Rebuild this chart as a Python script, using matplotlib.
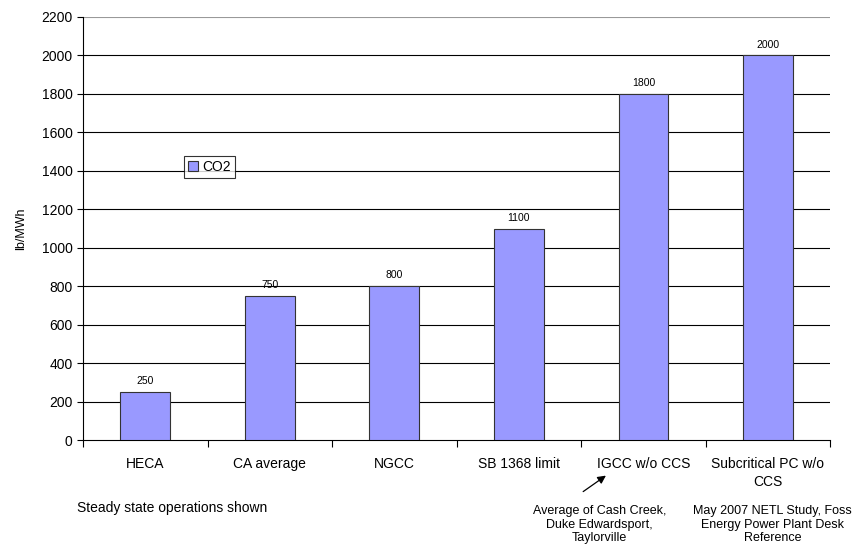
import matplotlib
matplotlib.use('Agg')
import matplotlib.pyplot as plt
import numpy as np

plt.rcParams['font.family'] = ['Liberation Sans', 'DejaVu Sans']

categories = ['HECA', 'CA average', 'NGCC', 'SB 1368 limit', 'IGCC w/o CCS', 'Subcritical PC w/o\nCCS']
co2 = [250, 750, 800, 1100, 1800, 2000]
yticks = np.arange(0, 2201, 200)

fig = plt.figure(figsize=(8.53, 5.48), dpi=100)
ax = fig.add_axes([0.0973, 0.197, 0.876, 0.772])

x = np.arange(len(categories))
bars = ax.bar(x, co2, width=0.4, color='#9999FF', edgecolor='#333333', linewidth=0.8,
              zorder=3, label='CO2')

for xi, v in zip(x, co2):
    ax.text(xi, v + 30, str(v), ha='center', va='bottom', fontsize=7.5)

ax.set_xlim(-0.5, len(categories) - 0.5)
ax.set_ylim(0, 2200)
ax.set_yticks(yticks)
ax.tick_params(axis='y', labelsize=10, length=4, direction='out')
ax.set_xticks(np.arange(len(categories) + 1) - 0.5, minor=False)
ax.set_xticklabels([])
ax.tick_params(axis='x', length=5, direction='out')
for xi, c in zip(x, categories):
    ax.text(xi, -90, c, ha='center', va='top', fontsize=10, linespacing=1.3)

for yv in yticks[1:-1]:
    ax.axhline(yv, color='black', linewidth=0.8, zorder=1)
ax.axhline(2200, color='#999999', linewidth=0.8, zorder=1)

for s in ['top', 'right']:
    ax.spines[s].set_visible(False)
ax.spines['left'].set_linewidth(0.8)
ax.spines['bottom'].set_linewidth(0.8)

ax.set_ylabel('lb/MWh', fontsize=9, labelpad=10)

leg = ax.legend(loc='center left', bbox_to_anchor=(0.135, 0.645), fontsize=10,
                frameon=True, fancybox=False, handlelength=0.7, handleheight=0.7,
                handletextpad=0.3, borderpad=0.3, borderaxespad=0)
leg.get_frame().set_edgecolor('black')
leg.get_frame().set_linewidth(0.8)

fig.text(0.090, 0.073, 'Steady state operations shown', fontsize=10, ha='left', va='center')

narrow = ['Liberation Sans Narrow', 'Liberation Sans', 'DejaVu Sans']
fig.text(0.703, 0.078, 'Average of Cash Creek,\nDuke Edwardsport,\nTaylorville', ha='center', va='top',
         fontsize=9, family=narrow, linespacing=1.15)
fig.text(0.906, 0.078, 'May 2007 NETL Study, Foss\nEnergy Power Plant Desk\nReference', ha='center', va='top',
         fontsize=9, family=narrow, linespacing=1.15)

fig.patches.append(matplotlib.patches.FancyArrowPatch(
    (0.681, 0.100), (0.713, 0.135), transform=fig.transFigure,
    arrowstyle='-|>', mutation_scale=12, color='black', linewidth=0.9))

fig.savefig('out.png', dpi=100)
